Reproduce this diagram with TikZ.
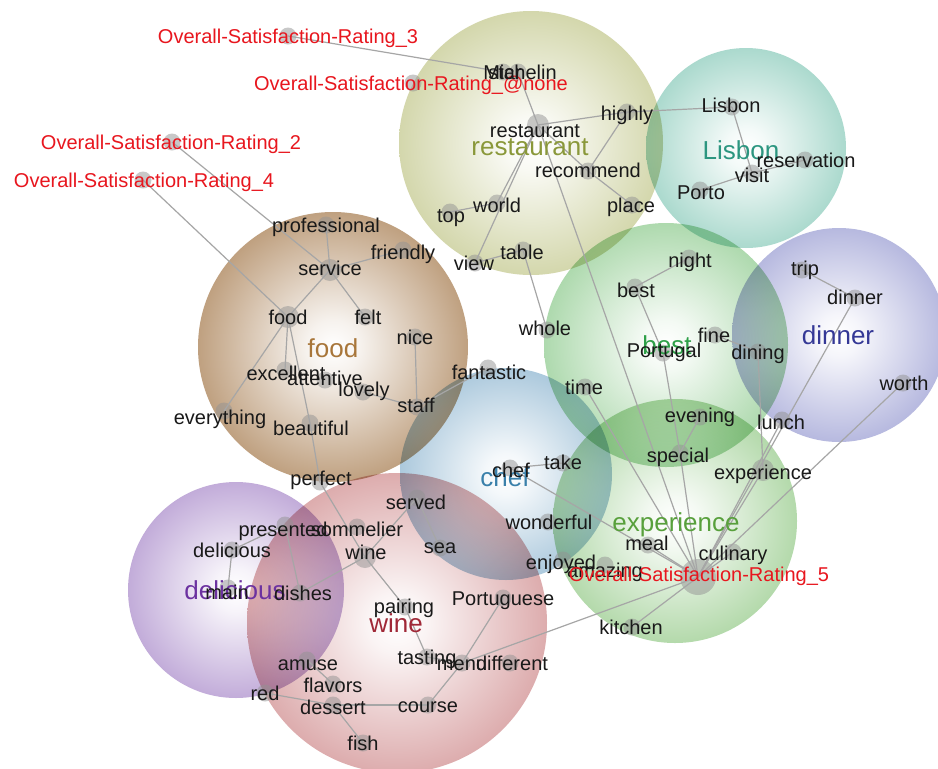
\documentclass[tikz,border=0pt]{standalone}
\usepackage{fontspec}
\setmainfont{Liberation Sans}
\definecolor{osrred}{RGB}{232,22,30}
\definecolor{cRest}{RGB}{180,186,112}
\definecolor{cLis}{RGB}{110,190,170}
\definecolor{cBest}{RGB}{115,190,115}
\definecolor{cDin}{RGB}{130,134,200}
\definecolor{cExp}{RGB}{125,190,110}
\definecolor{cChef}{RGB}{112,162,196}
\definecolor{cFood}{RGB}{145,92,36}
\definecolor{cDel}{RGB}{150,112,190}
\definecolor{cWine}{RGB}{196,112,114}
\definecolor{tRest}{RGB}{138,152,58}
\definecolor{tLis}{RGB}{44,150,128}
\definecolor{tBest}{RGB}{46,160,72}
\definecolor{tDin}{RGB}{52,56,150}
\definecolor{tExp}{RGB}{88,160,60}
\definecolor{tChef}{RGB}{58,128,170}
\definecolor{tFood}{RGB}{168,118,58}
\definecolor{tDel}{RGB}{108,50,160}
\definecolor{tWine}{RGB}{160,40,55}
\pgfdeclareradialshading{shRest}{\pgfpoint{0bp}{0bp}}{color(0bp)=(white); color(5bp)=(cRest!8!white); color(25bp)=(cRest!58!white); color(42bp)=(cRest!90!white); color(50bp)=(cRest)}
\pgfdeclareradialshading{shLis}{\pgfpoint{0bp}{0bp}}{color(0bp)=(white); color(5bp)=(cLis!8!white); color(25bp)=(cLis!58!white); color(42bp)=(cLis!90!white); color(50bp)=(cLis)}
\pgfdeclareradialshading{shBest}{\pgfpoint{0bp}{0bp}}{color(0bp)=(white); color(5bp)=(cBest!8!white); color(25bp)=(cBest!58!white); color(42bp)=(cBest!90!white); color(50bp)=(cBest)}
\pgfdeclareradialshading{shDin}{\pgfpoint{0bp}{0bp}}{color(0bp)=(white); color(5bp)=(cDin!8!white); color(25bp)=(cDin!58!white); color(42bp)=(cDin!90!white); color(50bp)=(cDin)}
\pgfdeclareradialshading{shExp}{\pgfpoint{0bp}{0bp}}{color(0bp)=(white); color(5bp)=(cExp!8!white); color(25bp)=(cExp!58!white); color(42bp)=(cExp!90!white); color(50bp)=(cExp)}
\pgfdeclareradialshading{shChef}{\pgfpoint{0bp}{0bp}}{color(0bp)=(white); color(5bp)=(cChef!8!white); color(25bp)=(cChef!58!white); color(42bp)=(cChef!90!white); color(50bp)=(cChef)}
\pgfdeclareradialshading{shFood}{\pgfpoint{0bp}{0bp}}{color(0bp)=(white); color(5bp)=(cFood!8!white); color(25bp)=(cFood!58!white); color(42bp)=(cFood!90!white); color(50bp)=(cFood)}
\pgfdeclareradialshading{shDel}{\pgfpoint{0bp}{0bp}}{color(0bp)=(white); color(5bp)=(cDel!8!white); color(25bp)=(cDel!58!white); color(42bp)=(cDel!90!white); color(50bp)=(cDel)}
\pgfdeclareradialshading{shWine}{\pgfpoint{0bp}{0bp}}{color(0bp)=(white); color(5bp)=(cWine!8!white); color(25bp)=(cWine!58!white); color(42bp)=(cWine!90!white); color(50bp)=(cWine)}
\begin{document}
\begin{tikzpicture}[x=1pt,y=-1pt,
  themecirc/.style={blend mode=multiply},
  edge/.style={draw=gray!70, line width=1.2pt},
  dot/.style={circle, fill=gray!85, fill opacity=0.5, inner sep=0pt, minimum size=17pt},
  bigdot/.style={dot, minimum size=22pt},
  hugedot/.style={dot, minimum size=36pt},
  lbl/.style={anchor=base, inner sep=0pt, font=\fontsize{20}{22}\selectfont, text=black!90},
  rating/.style={lbl, text=osrred},
  theme/.style={anchor=base, inner sep=0pt, font=\fontsize{26}{28}\selectfont}]
\useasboundingbox[fill=white] (0,0) rectangle (938,769);

% theme circles
\shade[shading=shRest, themecirc] (531,143) circle[radius=132];
\shade[shading=shLis, themecirc] (746,148) circle[radius=100];
\shade[shading=shBest, themecirc] (666,345) circle[radius=122];
\shade[shading=shDin, themecirc] (839,335) circle[radius=107];
\shade[shading=shExp, themecirc] (675,521) circle[radius=122];
\shade[shading=shChef, themecirc] (506,474) circle[radius=106];
\shade[shading=shFood, themecirc] (333,347) circle[radius=135];
\shade[shading=shDel, themecirc] (236,590) circle[radius=108];
\shade[shading=shWine, themecirc] (397,623) circle[radius=150];

% concept dots
\node[dot] (osr3) at (288,36) {};
\node[dot] (osrnone) at (413,83) {};
\node[dot] (osr2) at (172,142) {};
\node[dot] (osr4) at (143,180) {};
\node[hugedot] (osr5) at (698,577) {};
\node[dot] (star) at (503,72) {};
\node[dot] (michelin) at (518,72) {};
\node[bigdot] (restaurant) at (538,125) {};
\node[dot] (highly) at (627,112) {};
\node[dot] (recommend) at (588,171) {};
\node[dot] (place) at (632,205) {};
\node[dot] (world) at (497,203) {};
\node[dot] (top) at (450,212) {};
\node[dot] (view) at (475,263) {};
\node[dot] (table) at (523,250) {};
\node[dot] (whole) at (547,330) {};
\node[dot] (lisbon) at (732,107) {};
\node[dot] (visit) at (752,173) {};
\node[dot] (reservation) at (805,160) {};
\node[dot] (porto) at (700,190) {};
\node[dot] (night) at (689,258) {};
\node[dot] (best) at (635,287) {};
\node[dot] (fine) at (715,335) {};
\node[dot] (dining) at (758,352) {};
\node[dot] (portugal) at (663,353) {};
\node[dot] (time) at (585,387) {};
\node[dot] (evening) at (700,417) {};
\node[dot] (special) at (680,453) {};
\node[dot] (trip) at (802,270) {};
\node[dot] (dinner) at (855,298) {};
\node[dot] (worth) at (903,383) {};
\node[dot] (lunch) at (782,420) {};
\node[bigdot] (experience) at (763,470) {};
\node[dot] (professional) at (326,225) {};
\node[bigdot] (service) at (330,270) {};
\node[dot] (friendly) at (403,250) {};
\node[bigdot] (food) at (288,317) {};
\node[dot] (felt) at (365,317) {};
\node[dot] (nice) at (415,337) {};
\node[dot] (excellent) at (285,370) {};
\node[dot] (attentive) at (325,380) {};
\node[dot] (lovely) at (363,392) {};
\node[dot] (staff) at (417,407) {};
\node[dot] (fantastic) at (488,368) {};
\node[dot] (everything) at (224,411) {};
\node[dot] (beautiful) at (310,423) {};
\node[dot] (perfect) at (320,482) {};
\node[dot] (chef) at (510,468) {};
\node[dot] (take) at (563,463) {};
\node[dot] (wonderful) at (548,522) {};
\node[dot] (enjoyed) at (563,560) {};
\node[dot] (amazing) at (605,565) {};
\node[dot] (meal) at (648,545) {};
\node[dot] (culinary) at (733,552) {};
\node[dot] (kitchen) at (632,627) {};
\node[dot] (served) at (417,498) {};
\node[dot] (sea) at (440,548) {};
\node[dot] (presented) at (285,525) {};
\node[dot] (sommelier) at (357,527) {};
\node[dot] (delicious) at (232,550) {};
\node[dot] (main) at (228,588) {};
\node[dot] (dishes) at (300,593) {};
\node[bigdot] (wine) at (365,557) {};
\node[dot] (pairing) at (405,607) {};
\node[dot] (tasting) at (427,657) {};
\node[dot] (menu) at (462,663) {};
\node[dot] (different) at (510,663) {};
\node[dot] (course) at (428,705) {};
\node[dot] (dessert) at (333,705) {};
\node[dot] (flavors) at (333,684) {};
\node[dot] (amuse) at (307,660) {};
\node[dot] (red) at (265,693) {};
\node[dot] (fish) at (363,743) {};
\node[dot] (portuguese) at (503,598) {};

% connectors
\foreach \a/\b in {osr3/star, michelin/restaurant, restaurant/highly, restaurant/recommend,
  recommend/highly, recommend/place, restaurant/world, restaurant/view, world/top, view/table,
  table/whole, restaurant/osr5, highly/lisbon, lisbon/visit, visit/reservation, visit/porto,
  best/night, best/portugal, portugal/special, fine/dining, dining/experience, trip/dinner,
  dinner/osr5, lunch/osr5, worth/osr5, experience/osr5, evening/special, special/osr5,
  time/osr5, chef/take, chef/osr5, meal/osr5, culinary/osr5, kitchen/osr5, menu/osr5,
  portuguese/menu, osr2/service, osr4/food, professional/service, service/friendly,
  service/felt, service/food, food/excellent, food/everything, food/beautiful,
  beautiful/perfect, perfect/wine, nice/staff, lovely/staff, staff/fantastic, served/sea,
  served/wine, wine/dishes, wine/pairing, pairing/tasting, tasting/menu, menu/course,
  course/dessert, red/dessert, amuse/flavors, dessert/fish, presented/delicious,
  presented/dishes, delicious/main}
  \draw[edge] (\a.center) -- (\b.center);

% theme labels
\node[theme, text=tRest] (T-restaurant) at (530,155) {restaurant};
\node[theme, text=tLis] (T-lisbon) at (741,159) {Lisbon};
\node[theme, text=tBest] (T-best) at (667,354) {best};
\node[theme, text=tDin] (T-dinner) at (838,344) {dinner};
\node[theme, text=tExp] (T-experience) at (676,531) {experience};
\node[theme, text=tChef] (T-chef) at (505,486) {chef};
\node[theme, text=tFood] (T-food) at (333,357) {food};
\node[theme, text=tDel] (T-delicious) at (235,599) {delicious};
\node[theme, text=tWine] (T-wine) at (396,632) {wine};

% concept labels
\node[rating] (L-osr3) at (288,43) {Overall-Satisfaction-Rating\_3};
\node[rating] (L-osrnone) at (411,90) {Overall-Satisfaction-Rating\_@none};
\node[rating] (L-osr2) at (171,149) {Overall-Satisfaction-Rating\_2};
\node[rating] (L-osr4) at (144,187) {Overall-Satisfaction-Rating\_4};
\node[lbl] (L-star) at (505,79) {star};
\node[lbl] (L-michelin) at (520,79) {Michelin};
\node[lbl] (L-restaurant) at (535,137) {restaurant};
\node[lbl] (L-highly) at (627,120) {highly};
\node[lbl] (L-recommend) at (588,177) {recommend};
\node[lbl] (L-place) at (631,212) {place};
\node[lbl] (L-world) at (497,212) {world};
\node[lbl] (L-top) at (451,222) {top};
\node[lbl] (L-view) at (474,270) {view};
\node[lbl] (L-table) at (522,259) {table};
\node[lbl] (L-whole) at (545,335) {whole};
\node[lbl] (L-lisbon) at (731,112) {Lisbon};
\node[lbl] (L-visit) at (752,182) {visit};
\node[lbl] (L-reservation) at (806,167) {reservation};
\node[lbl] (L-porto) at (701,199) {Porto};
\node[lbl] (L-night) at (690,267) {night};
\node[lbl] (L-best) at (636,297) {best};
\node[lbl] (L-fine) at (714,342) {fine};
\node[lbl] (L-dining) at (758,359) {dining};
\node[lbl] (L-portugal) at (664,357) {Portugal};
\node[lbl] (L-time) at (584,394) {time};
\node[lbl] (L-evening) at (700,422) {evening};
\node[lbl] (L-special) at (678,462) {special};
\node[lbl] (L-trip) at (805,275) {trip};
\node[lbl] (L-dinner) at (855,304) {dinner};
\node[lbl] (L-worth) at (904,390) {worth};
\node[lbl] (L-lunch) at (781,429) {lunch};
\node[lbl] (L-experience) at (763,479) {experience};
\node[lbl] (L-professional) at (326,232) {professional};
\node[lbl] (L-service) at (330,275) {service};
\node[lbl] (L-friendly) at (403,259) {friendly};
\node[lbl] (L-food) at (288,324) {food};
\node[lbl] (L-felt) at (368,324) {felt};
\node[lbl] (L-nice) at (415,344) {nice};
\node[lbl] (L-excellent) at (286,380) {excellent};
\node[lbl] (L-attentive) at (325,385) {attentive};
\node[lbl] (L-lovely) at (364,396) {lovely};
\node[lbl] (L-staff) at (416,412) {staff};
\node[lbl] (L-fantastic) at (489,379) {fantastic};
\node[lbl] (L-everything) at (220,424) {everything};
\node[lbl] (L-beautiful) at (311,435) {beautiful};
\node[lbl] (L-perfect) at (321,485) {perfect};
\node[lbl] (L-chef) at (511,477) {chef};
\node[lbl] (L-take) at (563,469) {take};
\node[lbl] (L-wonderful) at (549,529) {wonderful};
\node[lbl] (L-enjoyed) at (561,569) {enjoyed};
\node[lbl] (L-amazing) at (605,577) {amazing};
\node[lbl] (L-meal) at (647,550) {meal};
\node[lbl] (L-culinary) at (733,560) {culinary};
\node[lbl] (L-kitchen) at (631,634) {kitchen};
\node[rating] (L-osr5) at (699,581) {Overall-Satisfaction-Rating\_5};
\node[lbl] (L-served) at (416,509) {served};
\node[lbl] (L-sea) at (440,553) {sea};
\node[lbl] (L-presented) at (283,536) {presented};
\node[lbl] (L-sommelier) at (357,536) {sommelier};
\node[lbl] (L-delicious) at (232,557) {delicious};
\node[lbl] (L-main) at (227,599) {main};
\node[lbl] (L-dishes) at (303,600) {dishes};
\node[lbl] (L-wine) at (366,559) {wine};
\node[lbl] (L-pairing) at (404,613) {pairing};
\node[lbl] (L-portuguese) at (503,605) {Portuguese};
\node[lbl] (L-tasting) at (427,664) {tasting};
\node[lbl] (L-menu) at (462,670) {menu};
\node[lbl] (L-different) at (512,670) {different};
\node[lbl] (L-amuse) at (308,670) {amuse};
\node[lbl] (L-flavors) at (333,692) {flavors};
\node[lbl] (L-red) at (265,700) {red};
\node[lbl] (L-dessert) at (333,714) {dessert};
\node[lbl] (L-course) at (428,712) {course};
\node[lbl] (L-fish) at (363,750) {fish};
\end{tikzpicture}
\end{document}
